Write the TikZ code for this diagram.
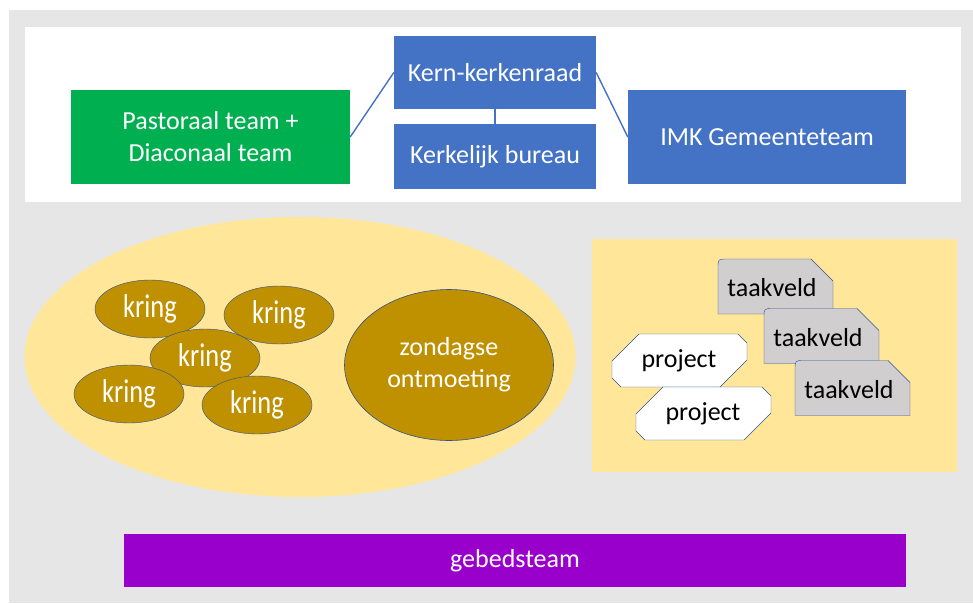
\documentclass[tikz,border=0pt]{standalone}
\usepackage{fontspec}
\setmainfont{Carlito}
\newfontfamily\narrowfont{Carlito}[FakeStretch=0.8]
\usepackage{tikz}
\usetikzlibrary{shapes.geometric}
\definecolor{bggray}{HTML}{E6E6E6}
\definecolor{boxblue}{HTML}{4472C4}
\definecolor{boxgreen}{HTML}{00B050}
\definecolor{paleyellow}{HTML}{FFE699}
\definecolor{darkgold}{HTML}{BF9000}
\definecolor{edgeblue}{HTML}{2F528F}
\definecolor{taakgray}{HTML}{D0CECE}
\definecolor{prayerpurple}{HTML}{9900CC}
\tikzstyle{bluebox}=[rectangle, fill=boxblue, text=white, align=center, inner sep=0pt, font=\fontsize{26}{32}\selectfont]
\tikzstyle{greenbox}=[rectangle, fill=boxgreen, text=white, align=center, inner sep=0pt, font=\fontsize{26}{32}\selectfont]
\tikzstyle{kring}=[ellipse, fill=darkgold, draw=edgeblue, thin, text=white, inner sep=0pt, minimum width=110, minimum height=58, font=\narrowfont\fontsize{33}{36}\selectfont]
\tikzstyle{bigkring}=[ellipse, fill=darkgold, draw=edgeblue, semithick, text=white, align=center, inner sep=0pt, font=\fontsize{26}{32}\selectfont]
\tikzstyle{shapetext}=[inner sep=0pt, text=black, font=\fontsize{26}{32}\selectfont]
\tikzstyle{taakline}=[fill=taakgray, draw=edgeblue, thin]
\tikzstyle{projline}=[fill=white, draw=edgeblue, thin]
\tikzstyle{link}=[draw=boxblue, line width=1.4pt]
\newcommand{\taakshape}[2]{\filldraw[taakline, shift={(#1,#2)}] (-57.5,27.5) -- (-57.5,-18.5) .. controls (-57.5,-27.5) .. (-48.5,-27.5) -- (35.5,-27.5) -- (57.5,-5.5) -- (57.5,27.5) -- cycle;}
\newcommand{\projshape}[2]{\filldraw[projline, shift={(#1,#2)}] (-40.5,-26.5) -- (58.5,-26.5) -- (67.5,-17.5) -- (67.5,-0.5) -- (40.5,26.5) -- (-58.5,26.5) -- (-67.5,17.5) -- (-67.5,0.5) -- cycle;}
\begin{document}
\begin{tikzpicture}[x=1pt, y=-1pt]
		   \useasboundingbox (0, 0) rectangle (973, 603);
		   % backgrounds
		   \fill[bggray] (9, 10) rectangle (973, 603);
		   \fill[white] (25, 27) rectangle (961, 202);
		   \fill[paleyellow] (300, 357) ellipse [x radius=275.5, y radius=140];
		   \fill[paleyellow] (592, 239) rectangle (957, 472);
		   \begin{scope}
			   \node (kern) at (495, 72.5) [bluebox, minimum width=202, minimum height=73] {Kern-kerkenraad};
			   \node (bureau) at (495, 156.5) [bluebox, minimum width=202, minimum height=65] {Kerkelijk bureau};
			   \node (pastoraal) at (210.5, 137) [greenbox, minimum width=279, minimum height=94] {Pastoraal team +\\Diaconaal team};
			   \node (imk) at (767, 137) [bluebox, minimum width=278, minimum height=94] {IMK Gemeenteteam};

			   \node (kring1) at (150, 309) [kring] {kring};
			   \node (kring2) at (279, 315) [kring] {kring};
			   \node (kring3) at (205, 358) [kring] {kring};
			   \node (kring4) at (129, 394) [kring] {kring};
			   \node (kring5) at (257, 405) [kring] {kring};
			   \node (zondag) at (449, 365) [bigkring, minimum width=209, minimum height=151] {zondagse\\ontmoeting};

			   \projshape{679.5}{360.5}
			   \node (project1) at (679, 361) [shapetext] {project};
			   \projshape{703.5}{413.5}
			   \node (project2) at (703, 414) [shapetext] {project};

			   \taakshape{775.5}{286.5}
			   \node (taak1) at (772, 288) [shapetext] {taakveld};
			   \taakshape{821.5}{336}
			   \node (taak2) at (818, 338) [shapetext] {taakveld};
			   \taakshape{852.5}{388}
			   \node (taak3) at (849, 390) [shapetext] {taakveld};

			   \node (gebed) at (515, 560.5) [rectangle, fill=prayerpurple, text=white, inner sep=0pt, minimum width=782, minimum height=53, font=\fontsize{26}{32}\selectfont] {gebedsteam};
		   \end{scope}
		   \begin{scope}
			   \path [link] (kern.west) edge (pastoraal.east);
			   \path [link] (kern.east) edge (imk.west);
			   \path [link] (kern.south) edge (bureau.north);
		   \end{scope}
	   \end{tikzpicture}
\end{document}
